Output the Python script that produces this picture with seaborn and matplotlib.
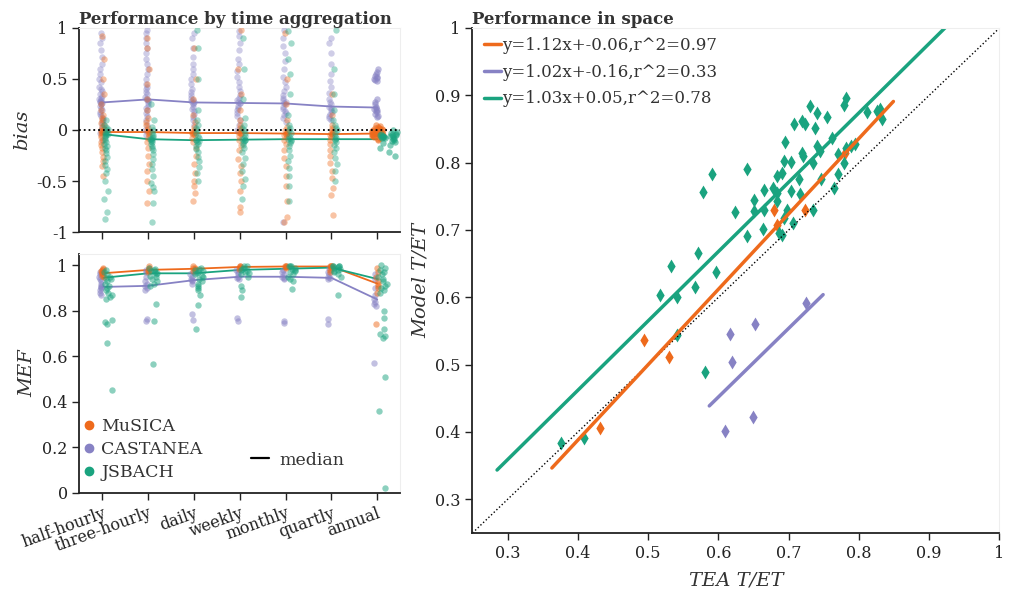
import numpy as np
import pandas as pd
import seaborn as sns
import matplotlib.pyplot as plt
from matplotlib.lines import Line2D

aggs = ['half-hourly', 'three-hourly', 'daily', 'weekly', 'monthly', 'quartly', 'annual']
models = ['CASTANEA', 'MuSICA', 'JSBACH']
legend_order = ['MuSICA', 'CASTANEA', 'JSBACH']
colors = {'MuSICA': '#ee6a1c', 'CASTANEA': '#8782c4', 'JSBACH': '#1aa37f'}

# bias per site, one list per aggregation
bias_musica = [
    [0.92, 0.7, 0.5, 0.35, 0.25, 0.2, 0.15, 0.12, 0.1, 0.07, 0.05, 0.03, 0.01, 0.0, -0.01, -0.02, -0.02,
     -0.03, -0.05, -0.07, -0.1, -0.12, -0.15, -0.18, -0.22, -0.26, -0.3, -0.35, -0.45],
    [0.9, 0.8, 0.6, 0.45, 0.3, 0.2, 0.12, 0.08, 0.05, 0.02, 0.0, -0.02, -0.02, -0.03, -0.05, -0.08,
     -0.12, -0.18, -0.25, -0.33, -0.4, -0.5, -0.6, -0.72],
    [0.8, 0.5, 0.3, 0.15, 0.08, 0.03, 0.0, -0.02, -0.03, -0.03, -0.04, -0.05, -0.08, -0.12, -0.18,
     -0.25, -0.33, -0.42, -0.5, -0.55, -0.62, -0.7],
    [0.98, 0.6, 0.35, 0.2, 0.1, 0.05, 0.02, 0.0, -0.02, -0.03, -0.03, -0.04, -0.06, -0.1, -0.15, -0.2,
     -0.28, -0.35, -0.42, -0.5, -0.6, -0.75, -0.8],
    [0.95, 0.5, 0.25, 0.1, 0.03, 0.0, -0.02, -0.03, -0.035, -0.04, -0.05, -0.07, -0.1, -0.14, -0.2,
     -0.27, -0.35, -0.45, -0.55, -0.7, -0.85, -0.9],
    [0.35, 0.15, 0.05, 0.02, 0.0, -0.02, -0.03, -0.04, -0.04, -0.05, -0.07, -0.1, -0.14, -0.2, -0.25,
     -0.32, -0.4, -0.47, -0.57, -0.64, -0.83],
    [0.05, 0.04, 0.03, 0.02, 0.02, 0.01, 0.01, 0.0, 0.0, 0.0, -0.01, -0.01, -0.01, -0.02, -0.02, -0.02,
     -0.03, -0.03, -0.03, -0.03, -0.035, -0.04, -0.04, -0.04, -0.05, -0.05, -0.05, -0.06, -0.06,
     -0.07, -0.08, -0.09, -0.1],
]
bias_castanea = [
    [0.95, 0.9, 0.85, 0.78, 0.72, 0.65, 0.6, 0.55, 0.5, 0.47, 0.42, 0.4, 0.38, 0.35, 0.33, 0.31, 0.3,
     0.29, 0.28, 0.27, 0.27, 0.26, 0.25, 0.24, 0.22, 0.2, 0.18, 0.16, 0.14, 0.12, 0.1, 0.08, 0.06,
     0.03, 0.0, -0.03, -0.1],
    [0.98, 0.95, 0.9, 0.85, 0.8, 0.75, 0.7, 0.65, 0.6, 0.55, 0.5, 0.45, 0.42, 0.4, 0.37, 0.35, 0.32,
     0.3, 0.3, 0.29, 0.28, 0.26, 0.24, 0.22, 0.2, 0.17, 0.14, 0.1, 0.05, 0.0, -0.05],
    [0.95, 0.9, 0.8, 0.72, 0.65, 0.6, 0.55, 0.5, 0.45, 0.4, 0.37, 0.34, 0.31, 0.29, 0.28, 0.27, 0.26,
     0.25, 0.23, 0.21, 0.19, 0.16, 0.13, 0.1, 0.05],
    [0.97, 0.92, 0.85, 0.78, 0.7, 0.65, 0.58, 0.52, 0.47, 0.42, 0.38, 0.34, 0.31, 0.29, 0.27, 0.265,
     0.26, 0.24, 0.22, 0.2, 0.17, 0.14, 0.1, 0.05, 0.0],
    [0.98, 0.9, 0.82, 0.75, 0.68, 0.6, 0.52, 0.47, 0.42, 0.38, 0.34, 0.31, 0.29, 0.27, 0.26, 0.25,
     0.23, 0.21, 0.19, 0.17, 0.15, 0.12, 0.08, -0.9],
    [0.9, 0.85, 0.75, 0.65, 0.55, 0.48, 0.42, 0.36, 0.3, 0.27, 0.25, 0.23, 0.22, 0.2, 0.18, 0.16, 0.14,
     0.12, 0.1],
    [0.6, 0.57, 0.55, 0.53, 0.52, 0.51, 0.5, 0.49, 0.48, 0.3, 0.27, 0.25, 0.23, 0.22, 0.21, 0.2, 0.19,
     0.18, 0.16, 0.14, 0.13],
]
bias_jsbach = [
    [0.1, 0.05, 0.03, 0.01, 0.0, -0.02, -0.03, -0.04, -0.04, -0.05, -0.06, -0.08, -0.1, -0.12, -0.14,
     -0.16, -0.18, -0.2, -0.23, -0.26, -0.3, -0.34, -0.38, -0.42, -0.5, -0.6, -0.68, -0.8, -0.87],
    [0.25, 0.1, 0.03, 0.0, -0.03, -0.05, -0.07, -0.08, -0.09, -0.09, -0.1, -0.11, -0.12, -0.14, -0.16,
     -0.18, -0.2, -0.24, -0.28, -0.33, -0.38, -0.45, -0.52, -0.56, -0.6, -0.72, -0.9],
    [0.98, 0.8, 0.5, 0.2, 0.1, 0.05, 0.02, 0.0, -0.03, -0.06, -0.08, -0.1, -0.1, -0.11, -0.12, -0.14,
     -0.16, -0.19, -0.22, -0.26, -0.3, -0.36, -0.42, -0.5],
    [0.9, 0.6, 0.3, 0.12, 0.05, 0.02, 0.0, -0.03, -0.06, -0.08, -0.09, -0.1, -0.1, -0.11, -0.13, -0.15,
     -0.18, -0.22, -0.27, -0.33, -0.4, -0.48, -0.55, -0.68],
    [0.97, 0.85, 0.7, 0.55, 0.35, 0.15, 0.05, 0.02, 0.0, -0.03, -0.06, -0.08, -0.09, -0.1, -0.11, -0.13,
     -0.16, -0.2, -0.25, -0.3, -0.37, -0.45, -0.55, -0.7],
    [0.98, 0.6, 0.35, 0.2, 0.1, 0.05, 0.02, 0.0, -0.03, -0.06, -0.08, -0.09, -0.1, -0.12, -0.15, -0.18,
     -0.22, -0.27, -0.33, -0.4, -0.5],
    [0.0, -0.02, -0.03, -0.04, -0.04, -0.05, -0.05, -0.05, -0.06, -0.06, -0.06, -0.06, -0.07, -0.07,
     -0.07, -0.08, -0.08, -0.08, -0.09, -0.1, -0.11, -0.12, -0.13, -0.15, -0.18, -0.22, -0.25],
]

# model efficiency per site
mef_musica = [
    [0.99, 0.985, 0.98, 0.975, 0.97, 0.965, 0.96, 0.955, 0.95],
    [0.995, 0.99, 0.985, 0.98, 0.975, 0.97],
    [0.995, 0.99, 0.988, 0.985, 0.98, 0.975],
    [0.998, 0.995, 0.993, 0.99, 0.985],
    [0.999, 0.997, 0.995, 0.993, 0.99],
    [0.999, 0.998, 0.996, 0.995, 0.99, 0.98, 0.97],
    [0.99, 0.97, 0.95, 0.93, 0.92, 0.91, 0.9, 0.88, 0.74],
]
mef_castanea = [
    [0.97, 0.96, 0.95, 0.94, 0.93, 0.92, 0.91, 0.905, 0.9, 0.89, 0.88, 0.87],
    [0.98, 0.97, 0.95, 0.93, 0.92, 0.91, 0.9, 0.89, 0.765, 0.755],
    [0.97, 0.96, 0.95, 0.94, 0.935, 0.93, 0.92, 0.785, 0.76],
    [0.98, 0.97, 0.96, 0.95, 0.945, 0.94, 0.77, 0.755],
    [0.98, 0.97, 0.96, 0.95, 0.945, 0.94, 0.755, 0.745],
    [0.99, 0.97, 0.96, 0.95, 0.945, 0.94, 0.765, 0.74],
    [0.96, 0.94, 0.9, 0.87, 0.85, 0.84, 0.83, 0.82, 0.57],
]
mef_jsbach = [
    [0.98, 0.97, 0.96, 0.95, 0.945, 0.94, 0.93, 0.92, 0.91, 0.9, 0.89, 0.88, 0.87, 0.86, 0.85, 0.76,
     0.75, 0.74, 0.66, 0.45],
    [0.99, 0.985, 0.98, 0.975, 0.97, 0.965, 0.96, 0.955, 0.95, 0.94, 0.93, 0.92, 0.91, 0.83, 0.755,
     0.565],
    [0.99, 0.985, 0.98, 0.975, 0.97, 0.965, 0.96, 0.955, 0.95, 0.94, 0.93, 0.92, 0.91, 0.9, 0.89, 0.87,
     0.825, 0.72],
    [0.998, 0.995, 0.99, 0.985, 0.98, 0.975, 0.97, 0.965, 0.96, 0.95, 0.91, 0.89, 0.86],
    [0.999, 0.997, 0.995, 0.99, 0.985, 0.98, 0.975, 0.97, 0.96, 0.95, 0.94, 0.93, 0.895],
    [0.999, 0.998, 0.996, 0.995, 0.993, 0.99, 0.985, 0.98, 0.975, 0.97, 0.96, 0.95, 0.87],
    [1.0, 0.99, 0.98, 0.97, 0.96, 0.95, 0.94, 0.93, 0.92, 0.91, 0.9, 0.89, 0.88, 0.8, 0.77, 0.72, 0.7,
     0.69, 0.68, 0.51, 0.36, 0.02],
]

# medians
bias_med = {
    'MuSICA': [-0.02, -0.02, -0.03, -0.03, -0.035, -0.04, -0.035],
    'CASTANEA': [0.27, 0.30, 0.27, 0.265, 0.26, 0.23, 0.22],
    'JSBACH': [-0.04, -0.09, -0.10, -0.095, -0.09, -0.09, -0.09],
}
mef_med = {
    'MuSICA': [0.965, 0.98, 0.985, 0.993, 0.995, 0.995, 0.92],
    'CASTANEA': [0.905, 0.91, 0.935, 0.95, 0.95, 0.945, 0.85],
    'JSBACH': [0.945, 0.965, 0.965, 0.98, 0.985, 0.99, 0.94],
}

# spatial T/ET: TEA estimate vs model
tea_musica = [0.432, 0.494, 0.530, 0.679, 0.683, 0.723, 0.780]
mod_musica = [0.406, 0.536, 0.511, 0.730, 0.708, 0.729, 0.815]
tea_castanea = [0.609, 0.617, 0.619, 0.649, 0.652, 0.725]
mod_castanea = [0.402, 0.545, 0.504, 0.423, 0.560, 0.592]
tea_jsbach = [0.376, 0.409, 0.517, 0.532, 0.541, 0.541, 0.566, 0.571, 0.578, 0.581, 0.591, 0.597,
              0.624, 0.641, 0.641, 0.650, 0.650, 0.664, 0.665, 0.665, 0.678, 0.684, 0.690, 0.684,
              0.684, 0.686, 0.690, 0.695, 0.694, 0.703, 0.703, 0.698, 0.694, 0.706, 0.715, 0.716,
              0.719, 0.721, 0.707, 0.719, 0.723, 0.731, 0.735, 0.735, 0.738, 0.741, 0.741, 0.745,
              0.754, 0.746, 0.762, 0.765, 0.770, 0.770, 0.779, 0.782, 0.779, 0.782, 0.788, 0.795,
              0.811, 0.826, 0.830, 0.833]
mod_jsbach = [0.383, 0.391, 0.604, 0.647, 0.601, 0.544, 0.615, 0.666, 0.756, 0.489, 0.783, 0.637,
              0.727, 0.790, 0.691, 0.745, 0.728, 0.702, 0.730, 0.760, 0.763, 0.780, 0.785, 0.755,
              0.743, 0.696, 0.693, 0.830, 0.802, 0.801, 0.758, 0.730, 0.718, 0.710, 0.775, 0.753,
              0.815, 0.810, 0.857, 0.862, 0.857, 0.884, 0.800, 0.730, 0.852, 0.873, 0.825, 0.818,
              0.868, 0.775, 0.836, 0.763, 0.813, 0.783, 0.885, 0.896, 0.800, 0.822, 0.825, 0.827,
              0.875, 0.877, 0.879, 0.865]
fit_slope = {'MuSICA': 1.12, 'CASTANEA': 1.02, 'JSBACH': 1.03}
fit_icpt = {'MuSICA': -0.06, 'CASTANEA': -0.16, 'JSBACH': 0.05}
fit_r2 = {'MuSICA': 0.97, 'CASTANEA': 0.33, 'JSBACH': 0.78}
fit_xrange = {'MuSICA': [0.363, 0.849], 'CASTANEA': [0.587, 0.749], 'JSBACH': [0.285, 0.923]}


def long_df(groups):
    rows = []
    for i, vals in enumerate(groups):
        for v in vals:
            rows.append((i, v))
    return pd.DataFrame(rows, columns=['pos', 'value'])


def strip(ax, df, m, off, jit, alpha):
    df = df.copy()
    df['pos'] = df['pos'] + off
    sns.stripplot(data=df, x='pos', y='value', native_scale=True, orient='x', jitter=jit,
                  color=colors[m], alpha=alpha, size=4.6, linewidth=0, ax=ax)


sns.set_style('ticks')
plt.rcParams['font.family'] = ['DejaVu Serif']
plt.rcParams['axes.edgecolor'] = '#222222'
plt.rcParams['xtick.color'] = '#222222'
plt.rcParams['ytick.color'] = '#222222'
plt.rcParams['text.color'] = '#333333'
plt.rcParams['axes.labelcolor'] = '#333333'
np.random.seed(3)

fig = plt.figure(figsize=(10.1, 5.94), dpi=100)
ax1 = fig.add_axes([0.0787, 0.6094, 0.3175, 0.3435])
ax2 = fig.add_axes([0.0787, 0.1705, 0.3175, 0.4019])
ax3 = fig.add_axes([0.4678, 0.1027, 0.5218, 0.8502])

bias_data = {'MuSICA': bias_musica, 'CASTANEA': bias_castanea, 'JSBACH': bias_jsbach}
mef_data = {'MuSICA': mef_musica, 'CASTANEA': mef_castanea, 'JSBACH': mef_jsbach}

# bias panel
x_off = {'MuSICA': 0.0, 'CASTANEA': -0.03, 'JSBACH': 0.08}
ann_off = {'MuSICA': 0.0, 'CASTANEA': -0.03, 'JSBACH': 0.26}
ann_jit = {'MuSICA': 0.12, 'CASTANEA': 0.04, 'JSBACH': 0.2}
for m in models:
    df = long_df(bias_data[m])
    strip(ax1, df[df.pos != 6], m, x_off[m], 0.04, 0.4)
    strip(ax1, df[df.pos == 6], m, ann_off[m], ann_jit[m], 0.55)
for m in models:
    sns.lineplot(x=np.arange(7), y=bias_med[m], color=colors[m], lw=1.3, ax=ax1)
ax1.axhline(0, color='black', ls=':', lw=1.3, zorder=5)
ax1.set_ylim(-1, 1)
ax1.set_yticks([-1, -0.5, 0, 0.5, 1])
ax1.set_yticklabels(['-1', '-0.5', '0', '0.5', '1'])
ax1.set_xlim(-0.5, 6.5)
ax1.set_xticks(range(7))
ax1.set_xticklabels([])
ax1.set_xlabel('')
ax1.set_ylabel('bias', style='italic', fontsize=14)
ax1.set_title('Performance by time aggregation', loc='left', fontweight='bold', fontsize=12, pad=3)

# MEF panel
mef_jit = {'MuSICA': 0.03, 'CASTANEA': 0.03, 'JSBACH': 0.1}
mef_off = {'MuSICA': 0.0, 'CASTANEA': -0.05, 'JSBACH': 0.12}
for m in models:
    strip(ax2, long_df(mef_data[m]), m, mef_off[m], mef_jit[m], 0.5)
for m in models:
    sns.lineplot(x=np.arange(7), y=mef_med[m], color=colors[m], lw=1.3, ax=ax2)
ax2.set_ylim(0, 1.05)
ax2.set_yticks([0, 0.2, 0.4, 0.6, 0.8, 1])
ax2.set_yticklabels(['0', '0.2', '0.4', '0.6', '0.8', '1'])
ax2.set_xlim(-0.5, 6.5)
ax2.set_xticks(range(7))
ax2.set_xticklabels(aggs, rotation=20, ha='right', rotation_mode='anchor', fontsize=12.5)
ax2.set_xlabel('')
ax2.set_ylabel('MEF', style='italic', fontsize=14)

h1 = [Line2D([], [], marker='o', ls='', color=colors[m], markersize=6) for m in legend_order]
leg1 = ax2.legend(h1, legend_order, loc='center', bbox_to_anchor=(0.19, 0.18), frameon=False,
                  fontsize=12.5, handletextpad=0.1, labelspacing=0.35, handlelength=1.2,
                  borderpad=0)
ax2.add_artist(leg1)
h2 = [Line2D([], [], color='black', lw=1.6)]
ax2.legend(h2, ['median'], loc='center', bbox_to_anchor=(0.68, 0.137), frameon=False,
           fontsize=12.5, handlelength=1.0, handletextpad=0.6, borderpad=0)

# spatial panel
sp_tea = {'MuSICA': tea_musica, 'CASTANEA': tea_castanea, 'JSBACH': tea_jsbach}
sp_mod = {'MuSICA': mod_musica, 'CASTANEA': mod_castanea, 'JSBACH': mod_jsbach}
ax3.plot([0.25, 1], [0.25, 1], color='black', ls=':', lw=1)
handles = []
labels = []
for m in legend_order:
    sns.scatterplot(x=sp_tea[m], y=sp_mod[m], marker='d', s=50, color=colors[m], linewidth=0, ax=ax3)
    xr = np.array(fit_xrange[m])
    yr = fit_slope[m] * xr + fit_icpt[m]
    sns.lineplot(x=xr, y=yr, color=colors[m], lw=2.5, ax=ax3)
    handles.append(Line2D([], [], color=colors[m], lw=2.5))
    labels.append(f'y={fit_slope[m]:.2f}x+{fit_icpt[m]:.2f},r^2={fit_r2[m]:.2f}')
ax3.legend(handles, labels, loc='upper left', bbox_to_anchor=(0.0, 1.005), frameon=False,
           fontsize=12, handlelength=1.0, handletextpad=0.1, labelspacing=0.58, borderpad=0.2)
ax3.set_xlim(0.25, 1)
ax3.set_ylim(0.25, 1)
ticks = [0.3, 0.4, 0.5, 0.6, 0.7, 0.8, 0.9, 1]
ax3.set_xticks(ticks)
ax3.set_xticklabels([f'{t:g}' for t in ticks])
ax3.set_yticks(ticks)
ax3.set_yticklabels([f'{t:g}' for t in ticks])
ax3.set_xlabel('TEA T/ET', style='italic', fontsize=14, labelpad=7)
ax3.set_ylabel('Model T/ET', style='italic', fontsize=14)
ax3.set_title('Performance in space', loc='left', fontweight='bold', fontsize=12, pad=3)

for ax in (ax1, ax2, ax3):
    ax.tick_params(labelsize=11.5, length=5, width=1, direction='out')
    for s in ('left', 'bottom'):
        ax.spines[s].set_linewidth(1.3)
    for s in ('top', 'right'):
        ax.spines[s].set_color('#eeeeee')
        ax.spines[s].set_linewidth(0.8)

fig.savefig('out.png', dpi=100)
